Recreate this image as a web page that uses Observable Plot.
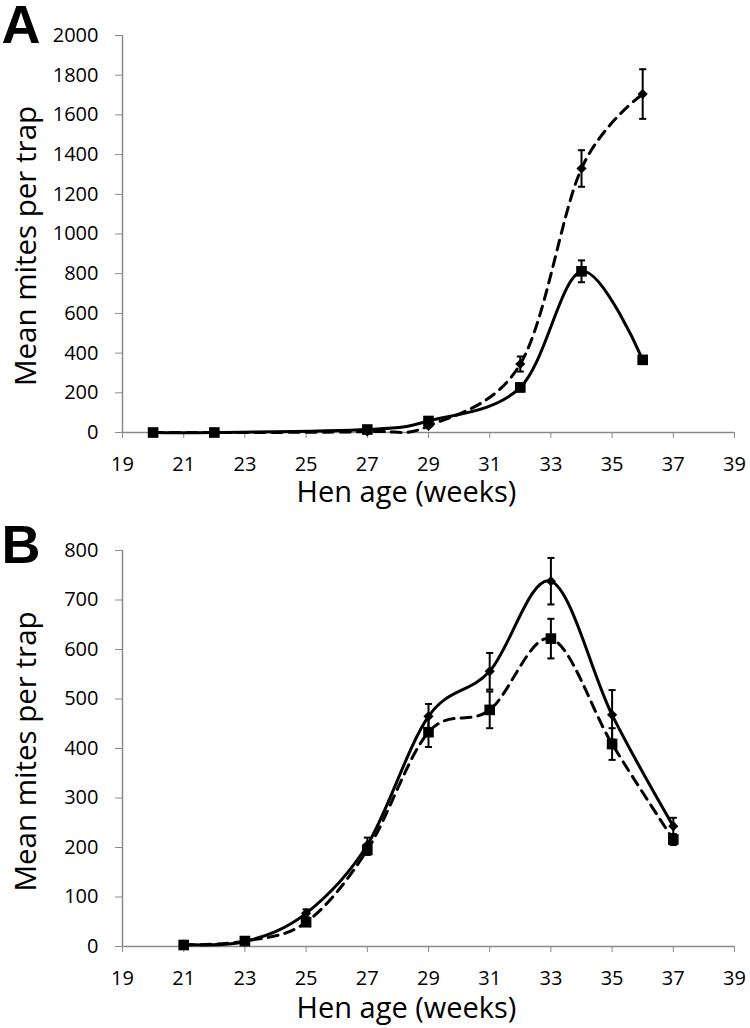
<!DOCTYPE html>
<html>
<head>
<meta charset="utf-8">
<script src="https://cdn.jsdelivr.net/npm/d3@7"></script>
<script src="https://cdn.jsdelivr.net/npm/@observablehq/plot@0.6"></script>
<style>
  html, body { margin: 0; padding: 0; background: #fff; }
  #wrap { width: 750px; }
  #wrap svg { display: block; }
</style>
</head>
<body>
<div id="wrap"></div>
<script>
// ---------- Data ----------
const xTicks = [19, 21, 23, 25, 27, 29, 31, 33, 35, 37, 39];

// Panel A
const weeksA = [20, 22, 27, 29, 32, 34, 36];
const solidA = [0, 0, 15, 58, 227, 812, 366];      // squares, solid line
const solidErrA = [0, 0, 5, 8, 20, 55, 13];
const dashedA = [0, 0, 5, 33, 345, 1330, 1705];    // diamonds, dashed line
const dashedErrA = [0, 0, 3, 5, 38, 92, 125];
const yTicksA = [0, 200, 400, 600, 800, 1000, 1200, 1400, 1600, 1800, 2000];

// Panel B
const weeksB = [21, 23, 25, 27, 29, 31, 33, 35, 37];
const solidB = [4, 10, 67, 205, 465, 556, 738, 468, 243];   // diamonds, solid line
const solidErrB = [3, 3, 8, 15, 25, 37, 47, 50, 17];
const dashedB = [3, 11, 49, 195, 433, 478, 622, 409, 216];  // squares, dashed line
const dashedErrB = [2, 3, 6, 10, 30, 37, 40, 32, 11];
const yTicksB = [0, 100, 200, 300, 400, 500, 600, 700, 800];

const xTitle = "Hen age (weeks)";
const yTitle = "Mean mites per trap";

// ---------- Helpers ----------
const rows = (weeks, vals, errs) => weeks.map((w, i) => ({week: w, v: vals[i], lo: vals[i] - errs[i], hi: vals[i] + errs[i]}));

const capSymbol = {
  draw(ctx, size) {
    const w = Math.sqrt(size);
    ctx.moveTo(-w / 2, 0);
    ctx.lineTo(w / 2, 0);
  }
};

function seriesMarks(data, symbol, dashed) {
  const caps = data.flatMap(d => (d.hi - d.lo) > 0 ? [{week: d.week, y: d.lo}, {week: d.week, y: d.hi}] : []);
  return [
    Plot.ruleX(data.filter(d => d.hi > d.lo), {x: "week", y1: "lo", y2: "hi", stroke: "black", strokeWidth: 2}),
    Plot.dot(caps, {x: "week", y: "y", symbol: capSymbol, r: 4, stroke: "black", strokeWidth: 2, fill: "none"}),
    Plot.line(data, {x: "week", y: "v", curve: "cardinal", stroke: "black", strokeWidth: 3,
      strokeDasharray: dashed ? "10,7" : null}),
    Plot.dot(data, {x: "week", y: "v", symbol, r: symbol === "square" ? 6 : 4.6, fill: "black", stroke: "none"})
  ];
}

function panel({letter, yDomain, yTicks, solid, dashed, solidSymbol, dashedSymbol, marginTop, marginBottom, height, xTitleDy, yTitleDy, letterDy}) {
  return Plot.plot({
    width: 750,
    height,
    marginTop,
    marginBottom,
    marginLeft: 122,
    marginRight: 16,
    style: {fontFamily: "'Open Sans', sans-serif", fontSize: "20px", color: "black", background: "white", overflow: "visible"},
    x: {domain: [19, 39]},
    y: {domain: yDomain},
    marks: [
      Plot.ruleX([19], {stroke: "#8a8a8a", strokeWidth: 1.5}),
      Plot.ruleY([0], {stroke: "#8a8a8a", strokeWidth: 1.5}),
      Plot.axisX({ticks: xTicks, tickFormat: d => String(d), tickSize: 6, tickPadding: 18, stroke: "#8a8a8a", fill: "black", fontSize: 20, label: null}),
      Plot.axisY({ticks: yTicks, tickFormat: d => String(d), tickSize: 7, tickPadding: 17, stroke: "#8a8a8a", fill: "black", fontSize: 20, label: null}),
      ...seriesMarks(dashed, dashedSymbol, true),
      ...seriesMarks(solid, solidSymbol, false),
      Plot.text([xTitle], {frameAnchor: "bottom", text: d => d, fontSize: 29, textAnchor: "middle", lineAnchor: "bottom", dy: xTitleDy, dx: -22, fill: "black"}),
      Plot.text([yTitle], {frameAnchor: "left", text: d => d, fontSize: 29.5, rotate: -90, textAnchor: "middle", lineAnchor: "bottom", dx: -87, dy: yTitleDy, fill: "black"}),
      Plot.text([letter], {frameAnchor: "top-left", text: d => d, fontSize: 54, fontWeight: "bold", fontFamily: "'Liberation Sans', Arial, sans-serif", textAnchor: "start", lineAnchor: "top", dx: -121, dy: letterDy, fill: "black"})
    ]
  });
}

const wrap = document.getElementById("wrap");

wrap.appendChild(panel({
  letter: "A",
  yDomain: [0, 2000],
  yTicks: yTicksA,
  solid: rows(weeksA, solidA, solidErrA),
  dashed: rows(weeksA, dashedA, dashedErrA),
  solidSymbol: "square",
  dashedSymbol: "diamond2",
  height: 514,
  marginTop: 35,
  marginBottom: 82,
  xTitleDy: 69,
  yTitleDy: 12,
  letterDy: -31
}));

wrap.appendChild(panel({
  letter: "B",
  yDomain: [0, 800],
  yTicks: yTicksB,
  solid: rows(weeksB, solidB, solidErrB),
  dashed: rows(weeksB, dashedB, dashedErrB),
  solidSymbol: "diamond2",
  dashedSymbol: "square",
  height: 514,
  marginTop: 36,
  marginBottom: 82,
  xTitleDy: 71,
  yTitleDy: 3,
  letterDy: -26
}));
</script>
</body>
</html>
